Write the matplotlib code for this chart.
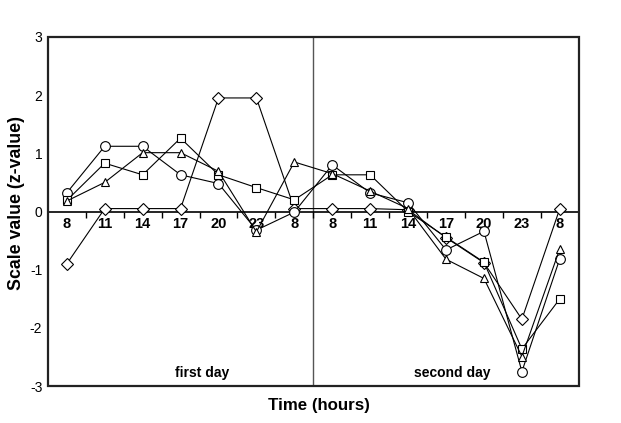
import matplotlib
matplotlib.use("Agg")
import matplotlib.pyplot as plt
from matplotlib.patches import Rectangle

plt.rcParams['font.family'] = ['Liberation Sans', 'DejaVu Sans']
plt.rcParams['axes.unicode_minus'] = False

# time points: first day 8..8, second day 8..8
hours = ["8", "11", "14", "17", "20", "23", "8", "8", "11", "14", "17", "20", "23", "8"]

diamond = [-0.90, 0.05, 0.05, 0.05, 1.95, 1.95, 0.05,
           0.05, 0.05, 0.03, -0.45, -0.88, -1.85, 0.05]
circle = [0.32, 1.12, 1.12, 0.63, 0.48, -0.32, -0.01,
          0.80, 0.32, 0.15, -0.66, -0.34, -2.75, -0.81]
square = [0.19, 0.83, 0.63, 1.26, 0.63, 0.41, 0.20,
          0.63, 0.63, 0.00, -0.44, -0.87, -2.36, -1.50]
triangle = [0.18, 0.50, 1.01, 1.01, 0.69, -0.35, 0.85,
            0.65, 0.35, 0.05, -0.82, -1.15, -2.49, -0.64]

x = list(range(len(hours)))

fig = plt.figure(figsize=(6.21, 4.23), dpi=100)
ax = fig.add_axes([0.077, 0.087, 0.855, 0.826])

series = [(diamond, 'D', 6), (circle, 'o', 7), (square, 's', 5.5), (triangle, '^', 5.5)]
for vals, mk, ms in series:
    ax.plot(x, vals, color='black', lw=0.8, marker=mk, ms=ms,
            mfc='white', mec='black', mew=0.8, zorder=5)

ax.set_xlim(-0.5, 13.5)
ax.set_ylim(-3, 3)

# x axis sits on the zero line, ticks between the hours
ax.spines['bottom'].set_position(('data', 0))
ax.spines['bottom'].set_linewidth(1.2)
for s in ['top', 'left', 'right']:
    ax.spines[s].set_linewidth(1.2)
ax.add_patch(Rectangle((0, 0), 1, 1, transform=ax.transAxes, fill=False,
                       lw=1.6, ec='#222222', clip_on=False, zorder=10))

ax.set_xticks([i + 0.5 for i in range(13)])
ax.set_xticklabels([])
ax.tick_params(axis='x', which='major', direction='out', length=4, width=1)
ax.set_xticks(x, minor=True)
ax.set_xticklabels(hours, minor=True, fontweight='bold', fontsize=10.5)
ax.tick_params(axis='x', which='minor', length=0, pad=4)

ax.set_yticks([-3, -2, -1, 0, 1, 2, 3])
ax.tick_params(axis='y', length=0, labelsize=10, pad=4)

ax.axvline(6.5, color='#555555', lw=1.0, zorder=1)

ax.text(3.57, -2.77, "first day", ha='center', va='center',
        fontweight='bold', fontsize=10)
ax.text(10.17, -2.77, "second day", ha='center', va='center',
        fontweight='bold', fontsize=10)

fig.text(0.027, 0.52, "Scale value (z-value)", rotation=90, ha='center', va='center',
         fontweight='bold', fontsize=12.8)
fig.text(0.514, 0.0425, "Time (hours)", ha='center', va='center',
         fontweight='bold', fontsize=12.2)

fig.savefig("out.png", dpi=100)
